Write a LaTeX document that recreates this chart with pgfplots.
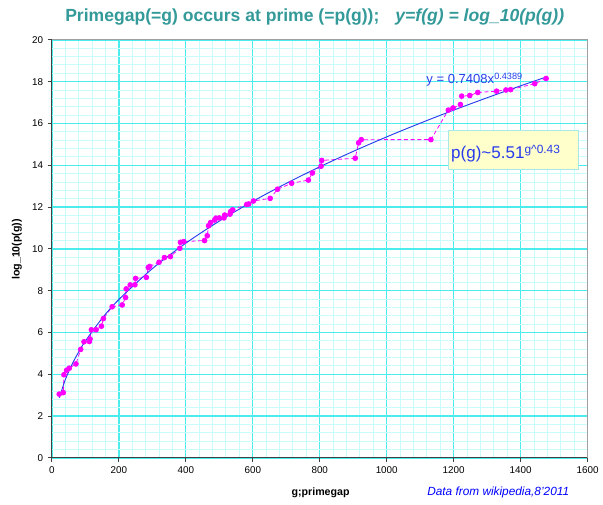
\documentclass[border=0pt]{standalone}
\usepackage{pgfplots}
\pgfplotsset{compat=1.18}
\usepackage{fontspec}
\setmainfont{Liberation Sans}

\definecolor{titlecol}{HTML}{339999}
\definecolor{majgrid}{HTML}{4CECEC}
\definecolor{mingrid}{HTML}{C8FCFC}
\definecolor{trendcol}{HTML}{283CEB}
\definecolor{datacol}{HTML}{FF00FF}
\definecolor{boxfill}{HTML}{FFFFCC}
\definecolor{boxline}{HTML}{A8E8E8}
\definecolor{framegray}{HTML}{A0A0A0}

% maximal prime gaps g and log10 of the prime where they start
\pgfplotstableread{
g     lp
22    3.0527
34    3.1229
36    3.9800
44    4.1954
52    4.2925
72    4.4969
86    5.1929
96    5.5571
112   5.5685
114   5.6921
118   6.1302
132   6.1326
148   6.3033
154   6.6677
180   7.2317
210   7.3187
220   7.6751
222   8.0869
234   8.2781
248   8.2831
250   8.5878
282   8.6398
288   9.1120
292   9.1623
320   9.3619
336   9.5846
354   9.6337
382   10.0305
384   10.3156
394   10.3496
456   10.3989
464   10.6300
468   11.1071
474   11.2606
486   11.3823
490   11.4735
500   11.4820
514   11.4837
516   11.6197
532   11.6644
534   11.7885
540   11.8686
582   12.1292
588   12.1488
602   12.2941
652   12.4175
674   12.8559
716   13.1408
766   13.2918
778   13.6319
804   13.9584
806   14.2336
906   14.3389
916   15.0754
924   15.2271
1132  15.2287
1184  16.6418
1198  16.7431
1220  16.9078
1224  17.3096
1248  17.3385
1272  17.4849
1328  17.5472
1356  17.6036
1370  17.6212
1442  17.9054
1476  18.1539
}\gaps

% power trendline y = 0.7408 x^0.4389, tabulated
\pgfplotstableread{
x     y
22    2.877
40    3.740
60    4.468
80    5.071
100   5.591
150   6.680
200   7.579
300   9.055
400   10.275
500   11.331
600   12.276
700   13.135
800   13.928
900   14.667
1000  15.361
1100  16.016
1200  16.639
1300  17.233
1400  17.804
1476  18.222
}\trend

\begin{document}
\begin{tikzpicture}
\path (0,0) rectangle (452.25pt,379.5pt);
\begin{axis}[
    at={(39pt,35.25pt)}, anchor=south west,
    scale only axis,
    width=402.75pt, height=314.25pt,
    xmin=0, xmax=1600, ymin=0, ymax=20,
    xtick={0,200,...,1600},
    ytick={0,2,...,20},
    minor x tick num=4,
    minor y tick num=4,
    grid=both,
    major grid style={majgrid, line width=1pt},
    minor grid style={mingrid, line width=0.75pt},
    axis lines=left,
    axis line style={black!75, line width=0.8pt, -},
    tick align=outside,
    major tick length=3pt,
    minor tick length=0pt,
    tick style={black!75, line width=0.7pt},
    ticklabel style={font=\fontsize{7.4}{9}\selectfont},
    /pgf/number format/assume math mode=true,
    /pgf/number format/1000 sep={},
    clip=false,
]
\draw[framegray, line width=0.8pt] (rel axis cs:0,1) -- (rel axis cs:1,1) -- (rel axis cs:1,0);
\addplot[datacol, densely dashed, line width=0.6pt, mark=*, mark size=1.8pt,
    mark options={solid, fill=datacol, draw=datacol}] table[x=g, y=lp] {\gaps};
\addplot[trendcol, line width=0.7pt, smooth] table[x=x, y=y] {\trend};
\node[anchor=west, text=trendcol, font=\fontsize{9.8}{11}\selectfont, inner sep=0pt]
    at (axis cs:1118,18.1) {y = 0.7408x\textsuperscript{0.4389}};
\end{axis}
% axis titles
\node[font=\fontsize{8}{9}\selectfont\bfseries] at (241pt,9pt) {g;primegap};
\node[font=\fontsize{8}{9}\selectfont\bfseries, rotate=90] at (12.75pt,192pt) {log\_10(p(g))};
% fitted formula box
\node[draw=boxline, fill=boxfill, line width=0.6pt, minimum width=98.25pt,
    minimum height=29.25pt, inner sep=0pt] at (385.9pt,266.6pt) {};
\node[anchor=west, text=trendcol, font=\fontsize{12.8}{14}\selectfont, inner sep=0pt]
    at (339pt,264pt) {p(g)\textasciitilde 5.51\textsuperscript{g\textasciicircum 0.43}};
% title
\node[text=titlecol, font=\fontsize{13.2}{15}\selectfont\bfseries] at (236.6pt,366.5pt)
    {Primegap(=g) occurs at prime (=p(g));\hspace{12pt}\itshape y=f(g) = log\_10(p(g))};
\node[anchor=west, text=blue, font=\fontsize{8.9}{10}\selectfont\itshape, inner sep=0pt]
    at (321pt,9pt) {Data from wikipedia,8'2011};
\end{tikzpicture}
\end{document}
